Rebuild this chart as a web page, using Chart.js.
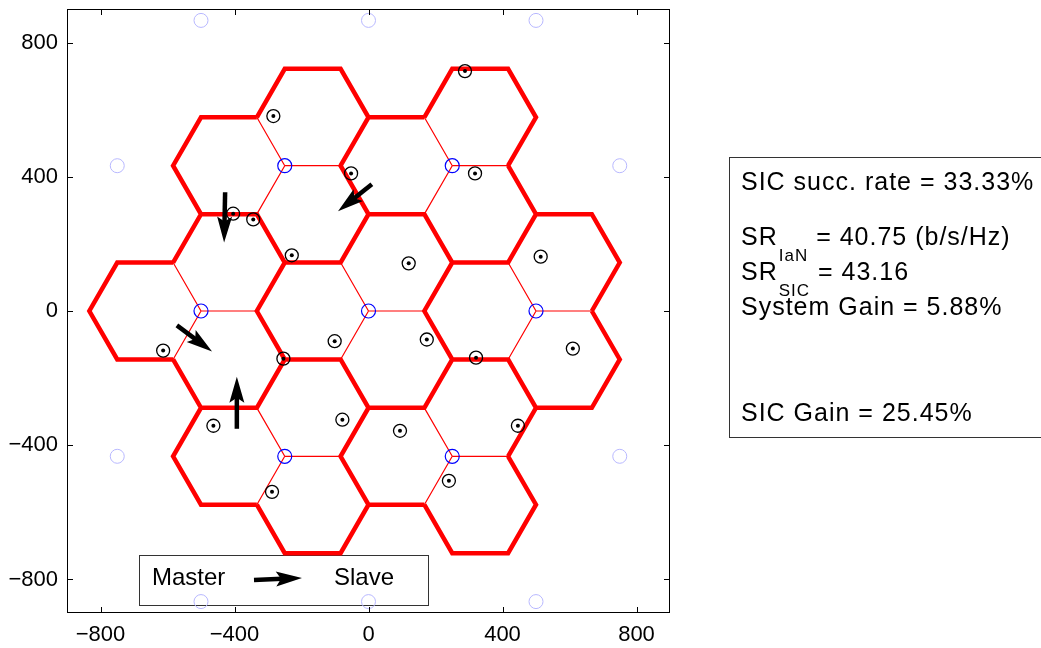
<!DOCTYPE html>
<html>
<head>
<meta charset="utf-8">
<script src="https://cdn.jsdelivr.net/npm/chart.js@4.4.0/dist/chart.umd.min.js"></script>
<style>
html, body { margin: 0; padding: 0; background: #fff; }
</style>
</head>
<body>
<canvas id="myChart" width="1041" height="648"></canvas>
<script>
// axis ticks
const xTicks = [-800, -400, 0, 400, 800];
const yTicks = [-800, -400, 0, 400, 800];

// base station sites (3 sectors each) and the surrounding ring
const cellRadius = 500 / 3;
const siteX = [-500, 0, 500, -250, 250, -250, 250];
const siteY = [0, 0, 0, 433, 433, -433, -433];
const ghostX = [-500, 0, 500, -750, 750, -750, 750, -500, 0, 500];
const ghostY = [866, 866, 866, 433, 433, -433, -433, -866, -866, -866];

// users
const userX = [-284, 288, -52, 318, -404, -344, -229, 120, 514, -613, -101, 174, 321, 610, -254, -463, -78, 94, 446, -288, 240];
const userY = [581, 715, 410, 410, 290, 273, 166, 142, 162, -118, -90, -85, -139, -112, -142, -342, -324, -357, -342, -539, -506];

// master -> slave arrows
const arrowFromX = [-428, 10, -572, -393];
const arrowFromY = [354, 378, -43, -351];
const arrowToX = [-431, -91, -467, -393];
const arrowToY = [204, 297, -121, -196];

const sicRate = '33.33%';
const srIaN = '40.75';
const srSIC = '43.16';
const systemGain = '5.88%';
const sicGain = '25.45%';

const FONT = '"Liberation Sans", Arial, Helvetica, sans-serif';
const rad = d => d * Math.PI / 180;

let thick = [];
let thin = [];
for (let s = 0; s < siteX.length; s++) {
    [180, 60, -60].forEach(t => {
        const cx = siteX[s] + cellRadius * Math.cos(rad(t));
        const cy = siteY[s] + cellRadius * Math.sin(rad(t));
        for (let k = 1; k <= 5; k++) {
            const a = rad(t + 180 + 60 * k);
            thick.push({x: cx + cellRadius * Math.cos(a), y: cy + cellRadius * Math.sin(a)});
        }
        thick.push({x: cx, y: null});
    });
    [0, 120, 240].forEach(t => {
        thin.push({x: siteX[s], y: siteY[s]});
        thin.push({x: siteX[s] + cellRadius * Math.cos(rad(t)), y: siteY[s] + cellRadius * Math.sin(rad(t))});
        thin.push({x: siteX[s], y: null});
    });
}

const pts = (xs, ys) => xs.map((x, i) => ({x: x, y: ys[i]}));
const fmt = v => String(v).replace('-', '\u2212');

function drawArrow(c, x1, y1, x2, y2) {
    const ang = Math.atan2(y2 - y1, x2 - x1);
    const len = 26, half = 7.5;
    const ux = Math.cos(ang), uy = Math.sin(ang);
    const bx = x2 - ux * len, by = y2 - uy * len;
    c.save();
    c.strokeStyle = '#000';
    c.fillStyle = '#000';
    c.lineWidth = 4.5;
    c.beginPath();
    c.moveTo(x1, y1);
    c.lineTo(bx + ux * 6, by + uy * 6);
    c.stroke();
    c.beginPath();
    c.moveTo(x2, y2);
    c.lineTo(bx - uy * half, by + ux * half);
    c.lineTo(bx + ux * 5, by + uy * 5);
    c.lineTo(bx + uy * half, by - ux * half);
    c.closePath();
    c.fill();
    c.restore();
}

const decor = {
    id: 'decor',
    beforeDatasetsDraw(chart) {
        const c = chart.ctx;
        // legend box (under the data, as in the original figure)
        c.save();
        c.fillStyle = '#fff';
        c.fillRect(139, 555, 289, 50);
        c.strokeStyle = '#333';
        c.lineWidth = 1;
        c.strokeRect(139.5, 555.5, 289, 50);
        c.fillStyle = '#000';
        c.font = '24px ' + FONT;
        c.textBaseline = 'alphabetic';
        c.fillText('Master', 152, 585);
        c.fillText('Slave', 334, 585);
        c.restore();
        drawArrow(c, 254, 580, 302, 578);
    },
    afterDatasetsDraw(chart) {
        const c = chart.ctx;
        const a = chart.chartArea;
        const sx = chart.scales.x, sy = chart.scales.y;

        for (let i = 0; i < arrowFromX.length; i++) {
            drawArrow(c, sx.getPixelForValue(arrowFromX[i]), sy.getPixelForValue(arrowFromY[i]),
                sx.getPixelForValue(arrowToX[i]), sy.getPixelForValue(arrowToY[i]));
        }

        // axes box with inward ticks
        c.save();
        c.strokeStyle = '#000';
        c.lineWidth = 1;
        c.strokeRect(a.left + 0.5, a.top + 0.5, a.right - a.left - 1, a.bottom - a.top - 1);
        c.beginPath();
        xTicks.forEach(v => {
            const p = Math.round(sx.getPixelForValue(v)) + 0.5;
            c.moveTo(p, a.bottom); c.lineTo(p, a.bottom - 6);
            c.moveTo(p, a.top); c.lineTo(p, a.top + 6);
        });
        yTicks.forEach(v => {
            const p = Math.round(sy.getPixelForValue(v)) + 0.5;
            c.moveTo(a.left, p); c.lineTo(a.left + 6, p);
            c.moveTo(a.right, p); c.lineTo(a.right - 6, p);
        });
        c.stroke();
        c.restore();

        // info box
        c.save();
        c.strokeStyle = '#333';
        c.lineWidth = 1;
        c.strokeRect(729.5, 157.5, 320, 280);
        c.fillStyle = '#000';
        c.textBaseline = 'alphabetic';
        c.letterSpacing = '1px';
        const tx = 741;
        c.font = '25px ' + FONT;
        c.fillText('SIC succ. rate = ' + sicRate, tx, 190);
        const sub = (main, s, rest, y) => {
            c.font = '25px ' + FONT;
            c.fillText(main, tx, y);
            let x = tx + c.measureText(main).width + 1;
            c.font = '17px ' + FONT;
            c.fillText(s, x, y + 16);
            x += c.measureText(s).width;
            c.font = '25px ' + FONT;
            c.fillText(rest, x, y);
        };
        sub('SR', 'IaN', ' = ' + srIaN + ' (b/s/Hz)', 245);
        sub('SR', 'SIC', ' = ' + srSIC, 280);
        c.font = '25px ' + FONT;
        c.fillText('System Gain = ' + systemGain, tx, 315);
        c.fillText('SIC Gain = ' + sicGain, tx, 421);
        c.restore();
    }
};

const ctx = document.getElementById('myChart').getContext('2d');
const myChart = new Chart(ctx, {
    type: 'scatter',
    data: {
        datasets: [
            {
                label: 'dots',
                data: pts(userX, userY),
                pointRadius: 2,
                pointBackgroundColor: '#000',
                pointBorderWidth: 0,
                order: 0
            },
            {
                label: 'users',
                data: pts(userX, userY),
                pointRadius: 6.5,
                pointBackgroundColor: 'rgba(0,0,0,0)',
                pointBorderColor: '#000',
                pointBorderWidth: 1.3,
                order: 1
            },
            {
                label: 'sites',
                data: pts(siteX, siteY),
                pointRadius: 7,
                pointBackgroundColor: 'rgba(0,0,0,0)',
                pointBorderColor: '#0000ff',
                pointBorderWidth: 1.2,
                order: 2
            },
            {
                label: 'ghost',
                data: pts(ghostX, ghostY),
                pointRadius: 7,
                pointBackgroundColor: 'rgba(0,0,0,0)',
                pointBorderColor: '#b8b8ff',
                pointBorderWidth: 1,
                order: 3
            },
            {
                label: 'spokes',
                data: thin,
                showLine: true,
                spanGaps: false,
                borderColor: '#ff0000',
                borderWidth: 1.2,
                pointRadius: 0,
                order: 5
            },
            {
                label: 'cells',
                data: thick,
                showLine: true,
                spanGaps: false,
                borderColor: '#ff0000',
                borderWidth: 4.5,
                pointRadius: 0,
                order: 4
            }
        ]
    },
    options: {
        responsive: false,
        animation: false,
        layout: { padding: { top: 9, right: 371, left: 0, bottom: 0 } },
        plugins: {
            legend: { display: false },
            tooltip: { enabled: false }
        },
        scales: {
            x: {
                type: 'linear',
                min: -900,
                max: 900,
                afterBuildTicks: s => { s.ticks = xTicks.map(v => ({value: v})); },
                afterFit: s => { s.height = 35; s.paddingLeft = 0; s.paddingRight = 0; },
                grid: { display: false, drawTicks: false },
                border: { display: false },
                ticks: { color: '#000', font: { family: FONT, size: 22 }, padding: 9, maxRotation: 0, autoSkip: false, callback: v => fmt(v) }
            },
            y: {
                type: 'linear',
                min: -900,
                max: 900,
                afterBuildTicks: s => { s.ticks = yTicks.map(v => ({value: v})); },
                afterFit: s => { s.width = 67; s.paddingTop = 0; s.paddingBottom = 0; },
                grid: { display: false, drawTicks: false },
                border: { display: false },
                ticks: { color: '#000', font: { family: FONT, size: 22 }, padding: 9, autoSkip: false, callback: v => fmt(v) }
            }
        }
    },
    plugins: [decor]
});
</script>
</body>
</html>
